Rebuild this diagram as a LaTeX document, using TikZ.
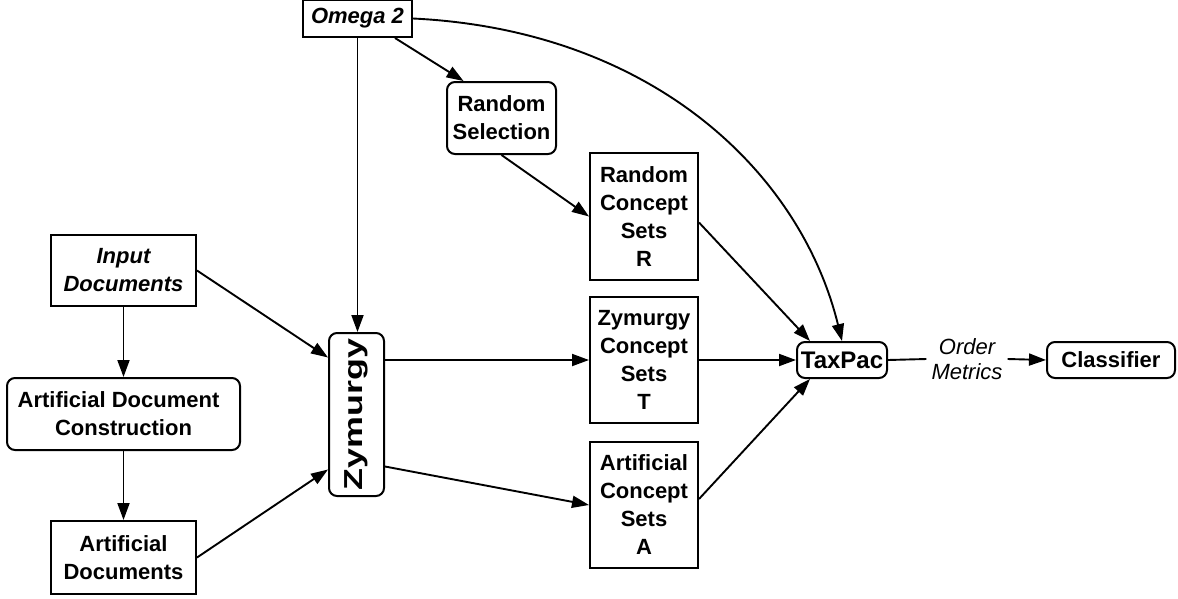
\documentclass[tikz,border=0pt]{standalone}
\usepackage{fontspec}
\setmainfont{Liberation Sans}
\usetikzlibrary{arrows.meta}
\begin{document}
\begin{tikzpicture}[x=1pt,y=-1pt,
  every node/.style={inner sep=0pt, align=center, font=\fontsize{22}{28}\selectfont\bfseries},
  sqbox/.style={draw, line width=2pt},
  rbox/.style={draw, line width=2pt, rounded corners=8pt},
  conn/.style={line width=1.9pt},
  arr/.style={conn, -{Triangle[length=17pt,width=12pt]}}]
\useasboundingbox (0,0) rectangle (1178,598);
\node[sqbox, minimum width=109pt, minimum height=37pt] (om2) at (357.5,18.5) {\itshape Omega 2};
\node[sqbox, minimum width=145pt, minimum height=71pt] (inp) at (123.5,270.5) {\itshape Input\\\itshape Documents};
\node[rbox, minimum width=233pt, minimum height=72pt] (adc) at (123.5,414) {Artificial Document\hspace*{10pt}\\Construction};
\node[sqbox, minimum width=145pt, minimum height=73pt] (ad) at (123.5,557.5) {Artificial\\Documents};
\node[rbox, minimum width=55pt, minimum height=163pt] (zym) at (356.5,414.5) {};
\node[rotate=90, font=\fontsize{26}{28}\selectfont\bfseries] (zymt) at (zym.center) {\scalebox{1.38}[1]{Zymurgy}};
\node[rbox, minimum width=109pt, minimum height=72pt] (rs) at (501.5,118) {Random\\Selection};
\node[sqbox, minimum width=108pt, minimum height=127pt] (R) at (644,216.5) {Random\\Concept\\Sets\\R};
\node[sqbox, minimum width=108pt, minimum height=126pt] (T) at (644,360) {Zymurgy\\Concept\\Sets\\T};
\node[sqbox, minimum width=108pt, minimum height=126pt] (A) at (644,505) {Artificial\\Concept\\Sets\\A};
\node[rbox, minimum width=90pt, minimum height=36pt, font=\fontsize{24}{28}\selectfont\bfseries] (tp) at (842,360) {TaxPac};
\node[rbox, minimum width=128pt, minimum height=36pt] (cl) at (1111,360) {Classifier};
\node[font=\fontsize{22}{25}\selectfont\itshape, inner xsep=5pt] (oml) at (967,359) {Order\\Metrics};
% connectors
\draw[arr] (om2.south) -- (om2.south |- zym.north);
\draw[arr] ([xshift=37.5pt]om2.south) -- ([xshift=-38pt]rs.north);
\draw[arr] (om2.east) .. controls (650,30) and (800,170) .. (tp.north);
\draw[arr] (rs.south) -- (R.west);
\draw[arr] ([yshift=-6pt]R.east) -- ([xshift=-32pt]tp.north);
\draw[arr] (inp.east) -- ([yshift=57pt]zym.west);
\draw[arr] (ad.east) -- ([yshift=-55pt]zym.west);
\draw[arr] (inp.south) -- (adc.north);
\draw[arr] (adc.south) -- (ad.north);
\draw[arr] ([yshift=54.5pt]zym.east) -- (T.west);
\draw[arr] ([yshift=-52pt]zym.east) -- (A.west);
\draw[arr] (T.east) -- (tp.west);
\draw[arr] ([yshift=6pt]A.east) -- ([xshift=-32pt]tp.south);
\draw[conn] (tp.east) -- (oml.west);
\draw[arr] (oml.east) -- (cl.west);
\end{tikzpicture}
\end{document}
